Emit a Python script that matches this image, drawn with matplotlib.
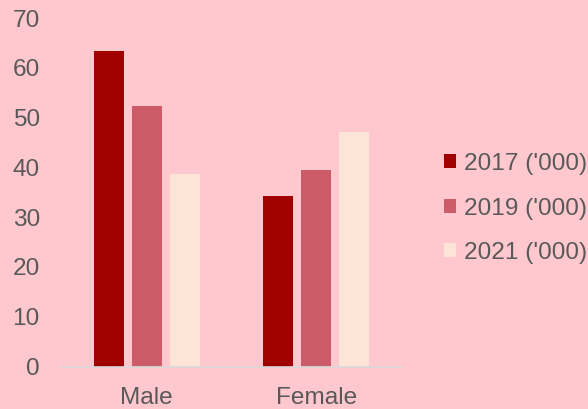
import numpy as np
import matplotlib.pyplot as plt

categories = ["Male", "Female"]
series = ["2017 ('000)", "2019 ('000)", "2021 ('000)"]
v2017 = [63.3, 34.3]
v2019 = [52.4, 39.5]
v2021 = [38.7, 47.2]

colors = ["#A00000", "#CD5C69", "#FCE4D6"]
bg = "#FFC7CE"
txt = "#595959"

plt.rcParams['font.family'] = ['Liberation Sans', 'DejaVu Sans']

fig = plt.figure(figsize=(5.88, 4.09), dpi=100, facecolor=bg)
ax = fig.add_axes([62/588, 1 - 366.5/409, (401-62)/588, (366.5-18)/409])
ax.set_facecolor(bg)

x = np.arange(len(categories))
w = 0.177
step = 0.224
bars = []
for i, (vals, c) in enumerate(zip([v2017, v2019, v2021], colors)):
    b = ax.bar(x + (i - 1) * step, vals, w, color=c, label=series[i])
    bars.append(b)

ax.set_xlim(-0.5, 1.5)
ax.set_ylim(0, 70)
ax.set_yticks(range(0, 71, 10))
ax.set_xticks(x)
ax.set_xticklabels(categories)

for s in ["top", "right", "left"]:
    ax.spines[s].set_visible(False)
ax.spines["bottom"].set_color("#D9D9D9")
ax.spines["bottom"].set_linewidth(1.2)
ax.tick_params(axis="both", length=0, labelsize=17.6, colors=txt)
ax.tick_params(axis="y", pad=16)
ax.tick_params(axis="x", pad=14.5)

fig.legend(handles=bars, labels=series, loc="center left",
           bbox_to_anchor=(444/588, (409-208.5)/409), frameon=False,
           fontsize=17.6, labelcolor=txt, handlelength=0.5, handleheight=0.5,
           handletextpad=0.3, labelspacing=0.92, borderpad=0, borderaxespad=0)

fig.savefig("out.png", dpi=100, facecolor=bg)
